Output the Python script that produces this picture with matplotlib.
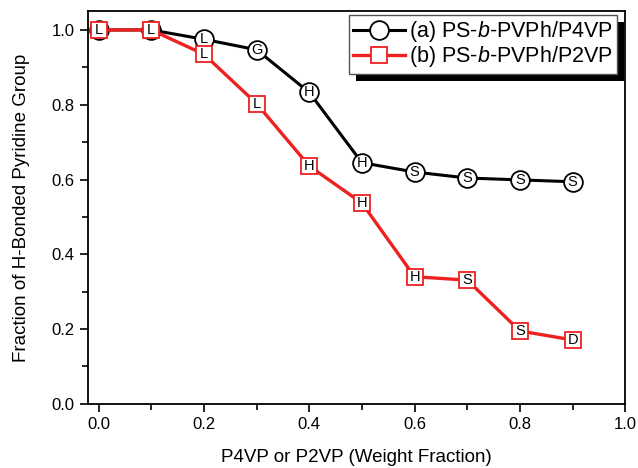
import matplotlib
matplotlib.use('Agg')
import matplotlib.pyplot as plt
from matplotlib.patches import Rectangle
from matplotlib.ticker import MultipleLocator, FormatStrFormatter
from matplotlib.transforms import IdentityTransform

plt.rcParams['font.family'] = ['Liberation Sans', 'DejaVu Sans']
plt.rcParams['mathtext.fontset'] = 'custom'
plt.rcParams['mathtext.rm'] = 'Liberation Sans'
plt.rcParams['mathtext.it'] = 'Liberation Sans:italic'

weight_frac = [0.0, 0.1, 0.2, 0.3, 0.4, 0.5, 0.6, 0.7, 0.8, 0.9]
p4vp = [1.0, 1.0, 0.975, 0.947, 0.833, 0.645, 0.62, 0.604, 0.599, 0.594]
p2vp = [1.0, 1.0, 0.935, 0.803, 0.636, 0.537, 0.34, 0.331, 0.195, 0.171]
p4vp_phase = ['L', 'L', 'L', 'G', 'H', 'H', 'S', 'S', 'S', 'S']
p2vp_phase = ['L', 'L', 'L', 'L', 'H', 'H', 'H', 'S', 'S', 'D']

red = '#ee2020'

fig = plt.figure(figsize=(6.38, 4.68), dpi=100)
ax = fig.add_axes([0.138, 0.137, 0.842, 0.839])

ax.plot(weight_frac, p4vp, '-o', color='black', lw=2.2, ms=13.5,
        mfc='white', mec='black', mew=1.3, label='(a) PS-$b$-PVPh/P4VP', zorder=3)
ax.plot(weight_frac, p2vp, '-s', color=red, lw=2.4, ms=12,
        mfc='white', mec=red, mew=1.3, label='(b) PS-$b$-PVPh/P2VP', zorder=4)

for x, y, t in zip(weight_frac, p4vp, p4vp_phase):
    if x < 0.15:
        continue
    ax.text(x, y, t, ha='center', va='center', fontsize=10.5, zorder=5)
for x, y, t in zip(weight_frac, p2vp, p2vp_phase):
    ax.text(x, y, t, ha='center', va='center', fontsize=10.5, zorder=6)

ax.set_xlim(-0.02, 1.0)
ax.set_ylim(0.0, 1.05)
ax.xaxis.set_major_locator(MultipleLocator(0.2))
ax.xaxis.set_minor_locator(MultipleLocator(0.1))
ax.yaxis.set_major_locator(MultipleLocator(0.2))
ax.yaxis.set_minor_locator(MultipleLocator(0.1))
ax.tick_params(which='both', direction='out', top=False, right=False, labelsize=12)
ax.tick_params(which='major', length=6, width=1.2)
ax.tick_params(which='minor', length=4, width=1.2)
ax.xaxis.set_major_formatter(FormatStrFormatter('%.1f'))
ax.yaxis.set_major_formatter(FormatStrFormatter('%.1f'))
for s in ax.spines.values():
    s.set_linewidth(1.3)

ax.set_xlabel('P4VP or P2VP (Weight Fraction)', fontsize=13.5, labelpad=12)
ax.set_ylabel('Fraction of H-Bonded Pyridine Group', fontsize=13.5, labelpad=16)

leg = ax.legend(loc='upper right', bbox_to_anchor=(0.985, 0.99), fontsize=15.5,
                fancybox=False, framealpha=1, edgecolor='#555555',
                handlelength=2.4, handletextpad=0.2, borderpad=0.2,
                labelspacing=0.0, borderaxespad=0.0)
leg.get_frame().set_linewidth(1.0)
leg.set_zorder(10)

fig.canvas.draw()
bb = leg.get_window_extent()
shadow = Rectangle((bb.x0 + 7, bb.y0 - 7), bb.width, bb.height,
                   transform=IdentityTransform(), facecolor='black',
                   edgecolor='none', zorder=9, clip_on=False)
ax.add_artist(shadow)

fig.savefig('out.png', dpi=100)
